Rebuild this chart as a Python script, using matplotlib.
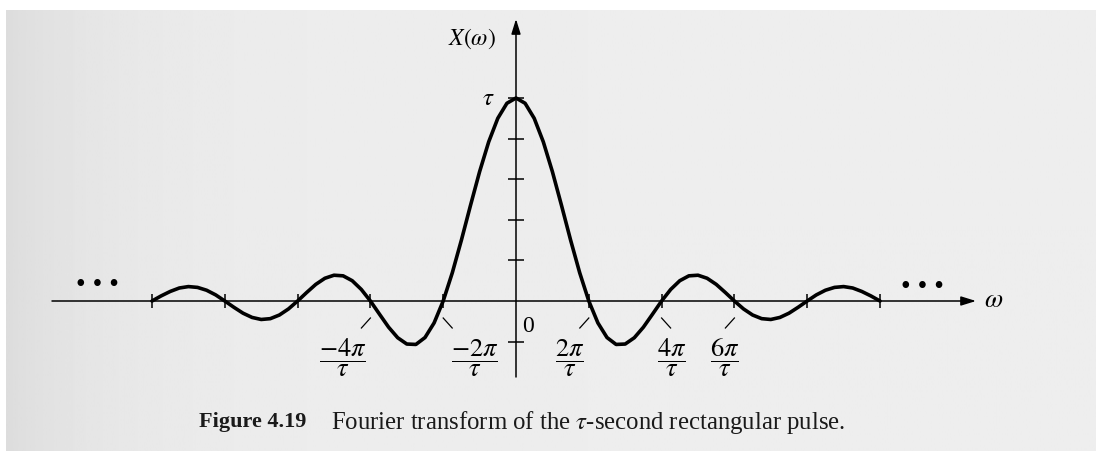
import numpy as np
import matplotlib
matplotlib.use('Agg')
import matplotlib.pyplot as plt

plt.rcParams['mathtext.fontset'] = 'stix'
plt.rcParams['font.family'] = ['Liberation Serif', 'DejaVu Serif']

#%% Spectrum of the tau-second pulse, omega in units of pi/tau, X in units of tau

omega = np.arange(-10, 10.01, 0.25)
X = np.array([
    0.000, 0.025, 0.047, 0.064, 0.071, 0.067, 0.053, 0.030,
    0.000, -0.031, -0.060, -0.081, -0.091, -0.087, -0.069, -0.039,
    0.000, 0.042, 0.082, 0.112, 0.127, 0.124, 0.100, 0.057,
    0.000, -0.065, -0.129, -0.181, -0.212, -0.214, -0.180, -0.108,
    0.000, 0.139, 0.300, 0.471, 0.637, 0.784, 0.900, 0.974,
    1.000,
    0.974, 0.900, 0.784, 0.637, 0.471, 0.300, 0.139, 0.000,
    -0.108, -0.180, -0.214, -0.212, -0.181, -0.129, -0.065, 0.000,
    0.057, 0.100, 0.124, 0.127, 0.112, 0.082, 0.042, 0.000,
    -0.039, -0.069, -0.087, -0.091, -0.081, -0.060, -0.031, 0.000,
    0.030, 0.053, 0.067, 0.071, 0.064, 0.047, 0.025, 0.000,
])

zero_omega = [-10, -8, -6, -4, -2, 2, 4, 6, 8, 10]
ytick_vals = [-0.2, 0.2, 0.4, 0.6, 0.8, 1.0]

label_omega = [-4, -2, 2, 4, 6]
label_text = [r'$\dfrac{-4\pi}{\tau}$', r'$\dfrac{-2\pi}{\tau}$',
              r'$\dfrac{2\pi}{\tau}$', r'$\dfrac{4\pi}{\tau}$',
              r'$\dfrac{6\pi}{\tau}$']

caption_num = 'Figure 4.19'
caption_text = r'Fourier transform of the $\tau$-second rectangular pulse.'

#%% Pixel layout helpers

W, H = 1096, 451
X0, Y0 = 516, 301       # origin in pixels
PX, PY = 36.4, 203.0    # pixels per pi/tau, pixels per tau

def dx(px):
    return (px - X0) / PX

def dy(py):
    return (Y0 - py) / PY

fig = plt.figure(figsize=(W / 100, H / 100), dpi=100)
fig.patch.set_facecolor('white')

# scanned page background with a darker strip at the binding edge
bg = fig.add_axes([6 / W, 0, 1 - 6 / W, (H - 10) / H])
bg.axis('off')
xs = np.linspace(0, 1, 400)
shade = 0.93 - 0.065 * np.exp(-xs * 10.0)
bg.imshow(shade[None, :], cmap='gray', vmin=0, vmax=1, aspect='auto',
          extent=[0, 1, 0, 1])
bg.set_xlim(0, 1)
bg.set_ylim(0, 1)

ax = fig.add_axes([0, 0, 1, 1])
ax.patch.set_alpha(0)
ax.axis('off')
ax.set_xlim(dx(0), dx(W))
ax.set_ylim(dy(H), dy(0))

#%% Axes with arrows

arrow_kw = dict(arrowstyle='-|>,head_length=0.9,head_width=0.28', lw=1.1,
                color='black', shrinkA=0, shrinkB=0, mutation_scale=10)
ax.annotate('', xy=(dx(976), 0), xytext=(dx(52), 0), arrowprops=arrow_kw)
ax.annotate('', xy=(0, dy(19)), xytext=(0, dy(377)), arrowprops=arrow_kw)

# ticks
ax.vlines(zero_omega, -7 / PY, 7 / PY, color='black', lw=1.1)
ax.hlines(ytick_vals, -8 / PX, 8 / PX, color='black', lw=1.1)

# the spectrum itself
ax.plot(omega, X, color='black', lw=2.6, solid_capstyle='round', zorder=3)

#%% Labels

lead_side = [-1, 1, -1, 1, -1]
label_shift = [-28, 31, -19, 10, -10]
for w, txt, side, shift in zip(label_omega, label_text, lead_side, label_shift):
    x_px = X0 + w * PX
    ax.plot([w, dx(x_px + side * 9)], [dy(318), dy(328)], color='black', lw=0.9)
    ax.text(dx(x_px + shift), dy(358), txt, fontsize=19, ha='center',
            va='center')

ax.text(dx(528), dy(327), '0', fontsize=17, ha='center', va='center')
ax.text(dx(488), dy(99), r'$\tau$', fontsize=18, ha='center', va='center')
ax.text(dx(472), dy(39), r'$X(\omega)$', fontsize=17, ha='center', va='center')
ax.text(dx(984), dy(301), r'$\omega$', fontsize=19, ha='left', va='center')

# continuation dots
ax.text(dx(97), dy(285), '\u2022 \u2022 \u2022', fontsize=20, ha='center',
        va='center', family='Liberation Serif')
ax.text(dx(922), dy(287), '\u2022 \u2022 \u2022', fontsize=20, ha='center',
        va='center', family='Liberation Serif')

ax.text(dx(199), dy(422), caption_num, fontsize=16, weight='bold',
        ha='left', va='center', color='#1a1a1a')
ax.text(dx(331), dy(422), caption_text, fontsize=17.8, ha='left',
        va='center', color='#1a1a1a')

fig.savefig('out.png', dpi=100)
